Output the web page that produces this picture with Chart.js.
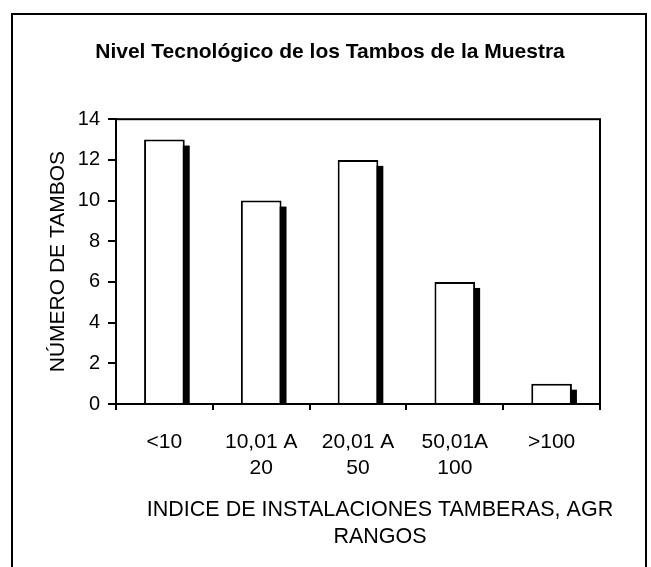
<!DOCTYPE html>
<html>
<head>
<meta charset="utf-8">
<script src="https://cdn.jsdelivr.net/npm/chart.js@4.4.1/dist/chart.umd.min.js"></script>
<style>
  body { margin: 0; background: #fff; }
  #wrap { position: relative; width: 651px; height: 567px; overflow: hidden; }
  #frame { position: absolute; left: 11px; top: 13px; width: 632px; height: 700px;
           border: 2px solid #000; }
  canvas { position: absolute; left: 0; top: 0; }
</style>
</head>
<body>
<div id="wrap">
  <div id="frame"></div>
  <canvas id="myChart" width="651" height="567"></canvas>
</div>
<script>
const categories = [['<10'], ['10,01 A', '20'], ['20,01 A', '50'], ['50,01A', '100'], ['>100']]
const tambos = [13, 10, 12, 6, 1]
const yTicks = [0, 2, 4, 6, 8, 10, 12, 14]
const xTitle = ['INDICE DE INSTALACIONES TAMBERAS, AGR', 'RANGOS']

const font = "'Liberation Sans', Arial, sans-serif"

// black block behind every bar, slightly shifted right and down
const shadowPlugin = {
  id: 'shadow',
  beforeDatasetsDraw(chart) {
    const c = chart.ctx
    c.save()
    c.fillStyle = '#000'
    chart.getDatasetMeta(0).data.forEach(bar => {
      const w = bar.width
      c.fillRect(bar.x - w / 2 + 5, bar.y + 6, w, bar.base - bar.y - 6)
    })
    c.restore()
  }
}

// box round the plot + the x axis title (sits right of the plot centre in the original)
const boxPlugin = {
  id: 'box',
  afterDraw(chart) {
    const a = chart.chartArea
    const c = chart.ctx
    c.save()
    c.strokeStyle = '#000'
    c.lineWidth = 2
    c.strokeRect(a.left, a.top, a.right - a.left, a.bottom - a.top)
    c.fillStyle = '#000'
    c.font = '21.5px ' + font
    c.textAlign = 'center'
    c.textBaseline = 'middle'
    xTitle.forEach((t, i) => c.fillText(t, a.left + 264, a.bottom + 106 + i * 27))
    c.restore()
  }
}

new Chart(document.getElementById('myChart'), {
  type: 'bar',
  data: {
    labels: categories,
    datasets: [{
      data: tambos,
      backgroundColor: '#fff',
      borderColor: '#000',
      borderWidth: 2,
      barPercentage: 0.42,
      categoryPercentage: 1
    }]
  },
  options: {
    responsive: false,
    animation: false,
    layout: { padding: { left: 9, right: 0, top: 0, bottom: 0 } },
    plugins: {
      legend: { display: false },
      tooltip: { enabled: false },
      title: {
        display: true,
        text: 'Nivel Tecnológico de los Tambos de la Muestra',
        color: '#000',
        font: { family: font, size: 21, weight: 'bold' },
        padding: { top: 39.5, bottom: 54.5 }
      }
    },
    scales: {
      x: {
        grid: { drawOnChartArea: false, color: '#000', lineWidth: 2, tickLength: 6, offset: true },
        border: { color: '#000', width: 2 },
        ticks: { color: '#000', font: { family: font, size: 21, lineHeight: 1.24 }, padding: 19, maxRotation: 0 },
        afterFit(scale) { scale.height = 567 - 404 }
      },
      y: {
        min: 0,
        max: 14,
        afterBuildTicks(scale) { scale.ticks = yTicks.map(v => ({ value: v })) },
        grid: { drawOnChartArea: false, color: '#000', lineWidth: 2, tickLength: 8 },
        border: { color: '#000', width: 2 },
        ticks: { color: '#000', font: { family: font, size: 20 }, padding: 8 },
        title: {
          display: true,
          text: 'NÚMERO DE TAMBOS',
          color: '#000',
          font: { family: font, size: 21 },
          padding: { top: 36.5, bottom: 0 }
        },
        afterFit(scale) { scale.width = 107 }
      },
      // empty axis that only keeps room on the right of the plot
      y2: {
        position: 'right',
        grid: { display: false },
        border: { display: false },
        ticks: { display: false },
        afterFit(scale) { scale.width = 51 }
      }
    }
  },
  plugins: [shadowPlugin, boxPlugin]
})
</script>
</body>
</html>
